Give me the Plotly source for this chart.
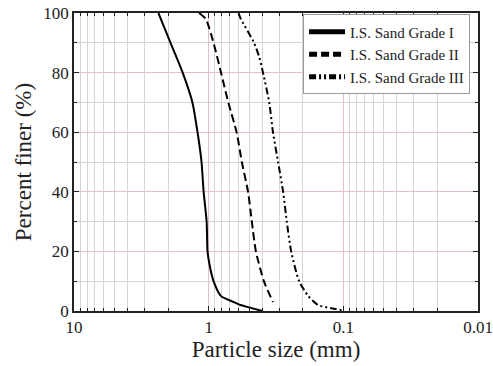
import plotly.graph_objects as go

# Particle size (mm) and percent finer for each grade
g1_size = [2.36, 1.92, 1.56, 1.32, 1.21, 1.13, 1.09, 1.035, 1.02, 0.98, 0.92, 0.81, 0.65, 0.58, 0.51, 0.40]
g1_pct = [100, 90, 80, 70, 60, 50, 40, 30, 20, 15, 10, 5, 3, 2, 1.3, 0]

g2_size = [1.18, 1.05, 0.92, 0.81, 0.715, 0.62, 0.567, 0.51, 0.478, 0.446, 0.389, 0.333]
g2_pct = [100, 98, 90, 80, 70, 60, 50, 40, 30, 20, 10, 3]

g3_size = [0.60, 0.577, 0.46, 0.42, 0.395, 0.355, 0.333, 0.305, 0.28, 0.263, 0.244, 0.213, 0.182, 0.154, 0.125, 0.103]
g3_pct = [100, 98, 90, 85, 80, 70, 60, 50, 40, 30, 20, 10, 5, 2, 1, 0.3]

x_tickvals = [10, 1, 0.1, 0.01]
x_ticktext = ["10", "1", "0.1", "0.01"]
y_tickvals = [0, 20, 40, 60, 80, 100]

FONT = "Liberation Serif"
major_grid = "#e6bfc6"
minor_grid = "#d4d4d4"

fig = go.Figure()
fig.add_trace(go.Scatter(x=g1_size, y=g1_pct, mode="lines", name="I.S. Sand Grade I",
                         line=dict(color="black", width=2, shape="spline", smoothing=0.6)))
fig.add_trace(go.Scatter(x=g2_size, y=g2_pct, mode="lines", name="I.S. Sand Grade II",
                         line=dict(color="black", width=2, dash="8px,4px", shape="spline", smoothing=0.6)))
fig.add_trace(go.Scatter(x=g3_size, y=g3_pct, mode="lines", name="I.S. Sand Grade III",
                         line=dict(color="black", width=2, dash="7px,3px,2px,3px,2px,3px", shape="spline", smoothing=0.6)))

fig.update_layout(
    width=493, height=366,
    margin=dict(l=74, r=15, t=13, b=55, autoexpand=False),
    paper_bgcolor="white", plot_bgcolor="white",
    font=dict(family=FONT, color="#222"),
    showlegend=True,
    legend=dict(x=0.567, y=0.995, xanchor="left", yanchor="top",
                bgcolor="white", bordercolor="#999", borderwidth=1,
                font=dict(family=FONT, size=15, color="#222"),
                tracegroupgap=0, itemwidth=36,
                itemsizing="constant"),
    xaxis=dict(type="log", range=[1, -2], tickvals=x_tickvals, ticktext=x_ticktext,
               automargin=False, ticklabeloverflow="allow",
               showgrid=True, gridcolor=major_grid, gridwidth=1,
               ticks="inside", ticklen=5, tickcolor="#222",
               showline=True, linecolor="#222", linewidth=1.5, mirror="allticks",
               minor=dict(showgrid=True, gridcolor=minor_grid, ticks="inside", ticklen=3,
                          tickcolor="#222", dtick="D1"),
               tickfont=dict(family=FONT, size=17, color="#222"),
               title=dict(text="Particle size (mm)", font=dict(family=FONT, size=23, color="#222"),
                          standoff=4),
               zeroline=False),
    yaxis=dict(range=[0, 100], tickvals=y_tickvals,
               automargin=False, ticklabeloverflow="allow",
               showgrid=True, gridcolor=major_grid, gridwidth=1,
               ticks="inside", ticklen=5, tickcolor="#222",
               showline=True, linecolor="#222", linewidth=1.5, mirror="allticks",
               minor=dict(showgrid=True, gridcolor=minor_grid, ticks="inside", ticklen=3,
                          tickcolor="#222", dtick=10),
               tickfont=dict(family=FONT, size=17, color="#222"),
               title=dict(text="Percent finer (%)", font=dict(family=FONT, size=23, color="#222"),
                          standoff=5),
               zeroline=False),
)

fig.write_html("out.html", config={"displayModeBar": False},
               post_script="document.body.style.margin='0';")
